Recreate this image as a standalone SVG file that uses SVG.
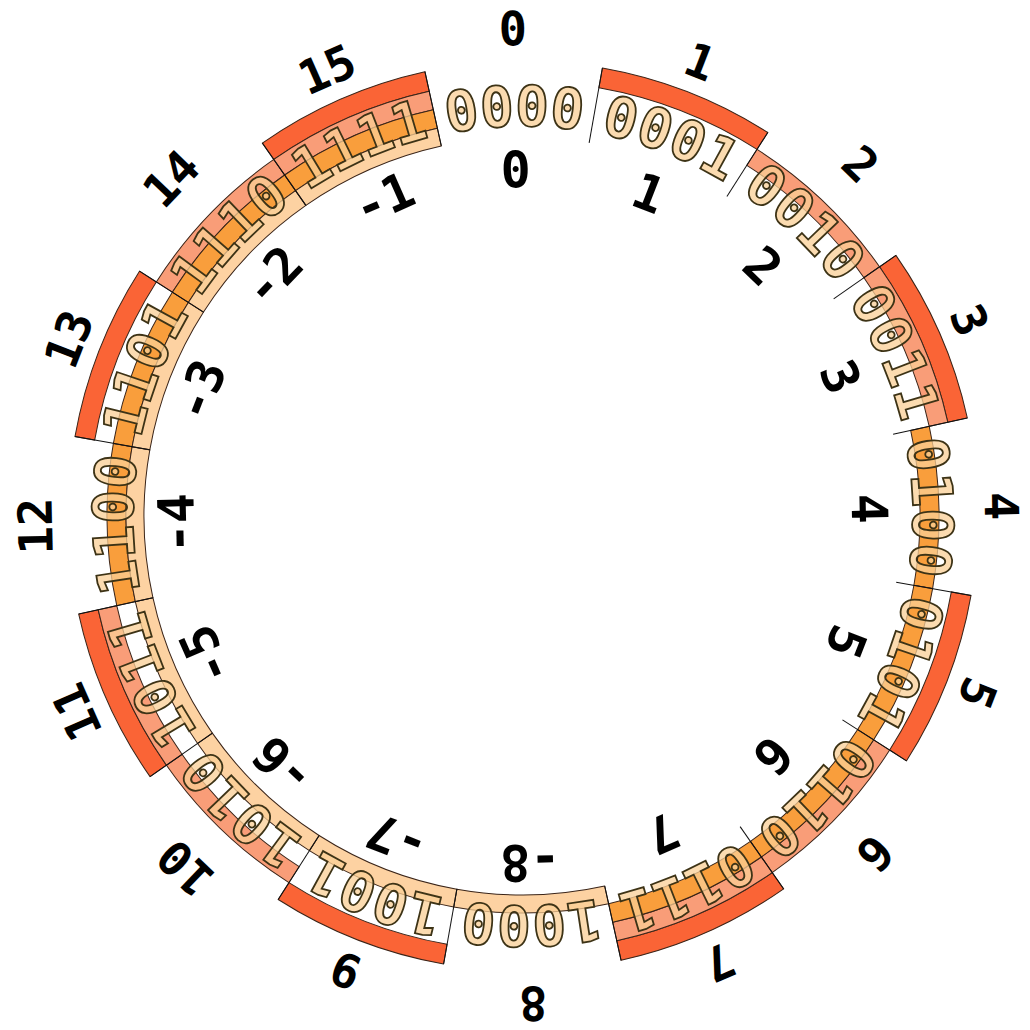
<svg xmlns="http://www.w3.org/2000/svg" width="1030" height="1030" viewBox="0 0 1030 1030">
<style>
.b0{fill:#fa6436;stroke:#3a2418;stroke-width:1}
.b1{fill:#f99d78;stroke:#3a2418;stroke-width:1}
.b2{fill:#f99e3c;stroke:#3a2418;stroke-width:1}
.b3{fill:#fdd2a2;stroke:#3a2418;stroke-width:1}
.bin{font-family:"DejaVu Sans Mono",monospace;font-weight:bold;font-size:56px;fill:#f9cf95;fill-opacity:.75;stroke:#3d3316;stroke-width:1.8;text-anchor:middle}
.out{font-family:"DejaVu Sans Mono",monospace;font-weight:bold;font-size:47px;fill:#000;text-anchor:middle}
.in{font-family:"DejaVu Sans Mono",monospace;font-weight:bold;font-size:50px;fill:#000;text-anchor:middle}
.dv{stroke:#111;stroke-width:1}
</style>
<defs>
<path id="B3" d="M-73.94 -371.72A379 379 0 0 1 73.94 -371.72L77.45 -389.37A397 397 0 0 0 -77.45 -389.37Z"/>
<path id="B2" d="M-77.45 -389.37A397 397 0 0 1 77.45 -389.37L81.16 -408.01A416 416 0 0 0 -81.16 -408.01Z"/>
<path id="B1" d="M-81.16 -408.01A416 416 0 0 1 81.16 -408.01L84.86 -426.64A435 435 0 0 0 -84.86 -426.64Z"/>
<path id="B0" d="M-84.86 -426.64A435 435 0 0 1 84.86 -426.64L88.77 -446.26A455 455 0 0 0 -88.77 -446.26Z"/>
<path id="arc" d="M-337.75 -195A390 390 0 0 1 337.75 -195" fill="none"/>
<line id="dl" x1="-73.94" y1="-371.72" x2="-88.77" y2="-446.26"/>
</defs>
<rect width="1030" height="1030" fill="#fff"/>
<g transform="translate(523,516) rotate(-1.2)">
<g id="n0000" transform="rotate(0)">
<text class="bin"><textPath href="#arc" startOffset="50%">0000</textPath></text>
<text class="out" y="-471">0</text><text class="in" y="-329">0</text></g>
<g id="n0001" transform="rotate(22.5)"><use href="#B0" class="b0"/>
<text class="bin"><textPath href="#arc" startOffset="50%">0001</textPath></text>
<text class="out" y="-471">1</text><text class="in" y="-329">1</text></g>
<g id="n0010" transform="rotate(45)"><use href="#B1" class="b1"/>
<text class="bin"><textPath href="#arc" startOffset="50%">0010</textPath></text>
<text class="out" y="-471">2</text><text class="in" y="-329">2</text></g>
<g id="n0011" transform="rotate(67.5)"><use href="#B0" class="b0"/><use href="#B1" class="b1"/>
<text class="bin"><textPath href="#arc" startOffset="50%">0011</textPath></text>
<text class="out" y="-471">3</text><text class="in" y="-329">3</text></g>
<g id="n0100" transform="rotate(90)"><use href="#B2" class="b2"/>
<text class="bin"><textPath href="#arc" startOffset="50%">0100</textPath></text>
<text class="out" y="-462">4</text><text class="in" y="-329">4</text></g>
<g id="n0101" transform="rotate(112.5)"><use href="#B0" class="b0"/><use href="#B2" class="b2"/>
<text class="bin"><textPath href="#arc" startOffset="50%">0101</textPath></text>
<text class="out" y="-471">5</text><text class="in" y="-329">5</text></g>
<g id="n0110" transform="rotate(135)"><use href="#B1" class="b1"/><use href="#B2" class="b2"/>
<text class="bin"><textPath href="#arc" startOffset="50%">0110</textPath></text>
<text class="out" y="-471">6</text><text class="in" y="-329">6</text></g>
<g id="n0111" transform="rotate(157.5)"><use href="#B0" class="b0"/><use href="#B1" class="b1"/><use href="#B2" class="b2"/>
<text class="bin"><textPath href="#arc" startOffset="50%">0111</textPath></text>
<text class="out" y="-471">7</text><text class="in" y="-329">7</text></g>
<g id="n1000" transform="rotate(180)"><use href="#B3" class="b3"/>
<text class="bin"><textPath href="#arc" startOffset="50%">1000</textPath></text>
<text class="out" y="-471">8</text><text class="in" y="-329">-8</text></g>
<g id="n1001" transform="rotate(202.5)"><use href="#B0" class="b0"/><use href="#B3" class="b3"/>
<text class="bin"><textPath href="#arc" startOffset="50%">1001</textPath></text>
<text class="out" y="-471">9</text><text class="in" y="-329">-7</text></g>
<g id="n1010" transform="rotate(225)"><use href="#B1" class="b1"/><use href="#B3" class="b3"/>
<text class="bin"><textPath href="#arc" startOffset="50%">1010</textPath></text>
<text class="out" y="-471">10</text><text class="in" y="-329">-6</text></g>
<g id="n1011" transform="rotate(247.5)"><use href="#B0" class="b0"/><use href="#B1" class="b1"/><use href="#B3" class="b3"/>
<text class="bin"><textPath href="#arc" startOffset="50%">1011</textPath></text>
<text class="out" y="-471">11</text><text class="in" y="-329">-5</text></g>
<g id="n1100" transform="rotate(270)"><use href="#B2" class="b2"/><use href="#B3" class="b3"/>
<text class="bin"><textPath href="#arc" startOffset="50%">1100</textPath></text>
<text class="out" y="-471">12</text><text class="in" y="-329">-4</text></g>
<g id="n1101" transform="rotate(292.5)"><use href="#B0" class="b0"/><use href="#B2" class="b2"/><use href="#B3" class="b3"/>
<text class="bin"><textPath href="#arc" startOffset="50%">1101</textPath></text>
<text class="out" y="-471">13</text><text class="in" y="-329">-3</text></g>
<g id="n1110" transform="rotate(315)"><use href="#B1" class="b1"/><use href="#B2" class="b2"/><use href="#B3" class="b3"/>
<text class="bin"><textPath href="#arc" startOffset="50%">1110</textPath></text>
<text class="out" y="-471">14</text><text class="in" y="-329">-2</text></g>
<g id="n1111" transform="rotate(337.5)"><use href="#B0" class="b0"/><use href="#B1" class="b1"/><use href="#B2" class="b2"/><use href="#B3" class="b3"/>
<text class="bin"><textPath href="#arc" startOffset="50%">1111</textPath></text>
<text class="out" y="-471">15</text><text class="in" y="-329">-1</text></g>
<g id="dividers" class="dv">
<use href="#dl" transform="rotate(0)"/><use href="#dl" transform="rotate(22.5)"/><use href="#dl" transform="rotate(45)"/><use href="#dl" transform="rotate(67.5)"/>
<use href="#dl" transform="rotate(90)"/><use href="#dl" transform="rotate(112.5)"/><use href="#dl" transform="rotate(135)"/><use href="#dl" transform="rotate(157.5)"/>
<use href="#dl" transform="rotate(180)"/><use href="#dl" transform="rotate(202.5)"/><use href="#dl" transform="rotate(225)"/><use href="#dl" transform="rotate(247.5)"/>
<use href="#dl" transform="rotate(270)"/><use href="#dl" transform="rotate(292.5)"/><use href="#dl" transform="rotate(315)"/><use href="#dl" transform="rotate(337.5)"/>
</g>
</g>
</svg>
